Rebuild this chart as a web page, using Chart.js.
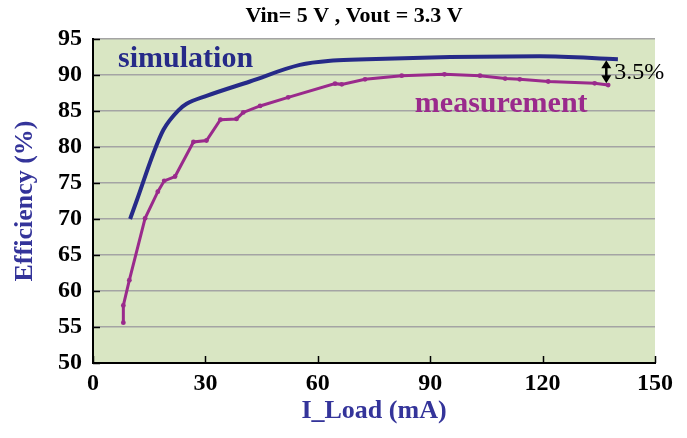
<!DOCTYPE html>
<html>
<head>
<meta charset="utf-8">
<script src="https://cdn.jsdelivr.net/npm/chart.js@4"></script>
<style>
  html, body { margin: 0; padding: 0; background: #fff; }
  #wrap { width: 687px; height: 438px; }
</style>
</head>
<body>
<div id="wrap"><canvas id="c" width="687" height="438"></canvas></div>
<script>
// load current (mA) and efficiency (%)
const simLoad = [9.9, 11.7, 16.1, 18.8, 22.8, 25.0, 30.3, 41.9, 55.2, 64.1, 73.1, 95.3, 119.3, 140.1];
const simEff  = [70.0, 72.6, 79.1, 82.4, 85.1, 86.0, 87.1, 89.1, 91.4, 92.0, 92.2, 92.5, 92.6, 92.2];

const measLoad = [8.1, 8.1, 9.7, 13.9, 17.3, 19.0, 21.9, 26.8, 30.3, 34.0, 38.3, 40.1, 44.6, 52.1, 64.6, 66.4, 72.6, 82.4, 93.8, 103.3, 110.0, 113.9, 121.5, 133.9, 137.5];
const measEff  = [55.6, 58.0, 61.5, 70.1, 73.8, 75.3, 75.9, 80.7, 80.9, 83.8, 83.9, 84.8, 85.7, 86.9, 88.8, 88.7, 89.4, 89.9, 90.1, 89.9, 89.5, 89.4, 89.1, 88.85, 88.6];

const xTicks = [0, 30, 60, 90, 120, 150];
const yTicks = [50, 55, 60, 65, 70, 75, 80, 85, 90, 95];

const gapLoad = 137, gapTop = 92.2, gapBottom = 88.7, gapText = '3.5%';

const SERIF = '"Liberation Serif", "Times New Roman", serif';
const NAVY = '#262a88';
const TITLE_BLUE = '#34349a';
const MAGENTA = '#9a2a8c';
const PLOT_BG = '#d9e6c3';

const decor = {
  id: 'decor',
  beforeDraw(chart) {
    const { ctx, chartArea: a } = chart;
    ctx.save();
    ctx.fillStyle = PLOT_BG;
    ctx.fillRect(a.left, a.top, a.right - a.left, a.bottom - a.top);
    ctx.restore();
  },
  afterDatasetsDraw(chart) {
    const { ctx, chartArea: a, scales: { x, y } } = chart;
    ctx.save();
    // inward tick marks
    ctx.strokeStyle = '#000';
    ctx.lineWidth = 1.5;
    yTicks.forEach(v => {
      const py = Math.round(y.getPixelForValue(v)) + 0.5;
      ctx.beginPath(); ctx.moveTo(a.left, py); ctx.lineTo(a.left + 7, py); ctx.stroke();
    });
    xTicks.forEach(v => {
      const px = Math.round(x.getPixelForValue(v)) + 0.5;
      ctx.beginPath(); ctx.moveTo(px, a.bottom); ctx.lineTo(px, a.bottom - 7); ctx.stroke();
    });

    // series labels
    ctx.font = 'bold 30px ' + SERIF;
    ctx.textBaseline = 'alphabetic';
    ctx.textAlign = 'left';
    ctx.fillStyle = NAVY;
    ctx.fillText('simulation', x.getPixelForValue(6.7), y.getPixelForValue(91.15));
    ctx.fillStyle = MAGENTA;
    ctx.fillText('measurement', x.getPixelForValue(85.9), y.getPixelForValue(84.9));

    // gap arrow
    const ax = x.getPixelForValue(gapLoad);
    const y1 = y.getPixelForValue(gapTop) + 1;
    const y2 = y.getPixelForValue(gapBottom) - 1;
    ctx.strokeStyle = '#000';
    ctx.fillStyle = '#000';
    ctx.lineWidth = 2.5;
    ctx.beginPath(); ctx.moveTo(ax, y1 + 5); ctx.lineTo(ax, y2 - 5); ctx.stroke();
    ctx.beginPath(); ctx.moveTo(ax, y1); ctx.lineTo(ax - 5, y1 + 8); ctx.lineTo(ax + 5, y1 + 8); ctx.closePath(); ctx.fill();
    ctx.beginPath(); ctx.moveTo(ax, y2); ctx.lineTo(ax - 5, y2 - 8); ctx.lineTo(ax + 5, y2 - 8); ctx.closePath(); ctx.fill();
    ctx.font = '24px ' + SERIF;
    ctx.textBaseline = 'middle';
    ctx.fillText(gapText, ax + 8, (y1 + y2) / 2 + 1);

    // chart title
    ctx.font = 'bold 22px ' + SERIF;
    ctx.textAlign = 'center';
    ctx.fillText('Vin= 5 V , Vout = 3.3 V', 354, 16);
    ctx.restore();
  }
};

new Chart(document.getElementById('c'), {
  type: 'line',
  data: {
    datasets: [
      {
        label: 'simulation',
        data: simLoad.map((v, i) => ({ x: v, y: simEff[i] })),
        borderColor: NAVY,
        borderWidth: 4,
        pointRadius: 0,
        cubicInterpolationMode: 'monotone',
        fill: false
      },
      {
        label: 'measurement',
        data: measLoad.map((v, i) => ({ x: v, y: measEff[i] })),
        borderColor: MAGENTA,
        backgroundColor: MAGENTA,
        borderWidth: 3,
        pointRadius: 2.4,
        pointBorderWidth: 0,
        tension: 0,
        fill: false
      }
    ]
  },
  options: {
    responsive: false,
    animation: false,
    events: [],
    layout: { padding: { top: 39, right: 32, left: 0, bottom: 0 } },
    plugins: { legend: { display: false }, tooltip: { enabled: false } },
    scales: {
      x: {
        type: 'linear', min: 0, max: 150,
        afterFit: s => { s.height = 75; },
        afterBuildTicks: s => { s.ticks = xTicks.map(v => ({ value: v })); },
        grid: { display: false },
        border: { display: true, color: '#000', width: 2 },
        ticks: { color: '#000', padding: -2, font: { family: SERIF, size: 24, weight: 'bold' }, maxRotation: 0 },
        title: { display: true, text: 'I_Load (mA)', color: TITLE_BLUE, padding: { top: 0, bottom: 11 }, font: { family: SERIF, size: 26, weight: 'bold' } }
      },
      y: {
        min: 50, max: 95,
        afterFit: s => { s.width = 93; },
        afterBuildTicks: s => { s.ticks = yTicks.map(v => ({ value: v })); },
        grid: { color: '#a4a4a4', lineWidth: 1.5, drawTicks: false },
        border: { display: true, color: '#000', width: 2 },
        ticks: { color: '#000', padding: 11, font: { family: SERIF, size: 24, weight: 'bold' } },
        title: { display: true, text: 'Efficiency (%)', color: TITLE_BLUE, padding: { top: 10, bottom: 0 }, font: { family: SERIF, size: 26, weight: 'bold' } }
      }
    }
  },
  plugins: [decor]
});
</script>
</body>
</html>
